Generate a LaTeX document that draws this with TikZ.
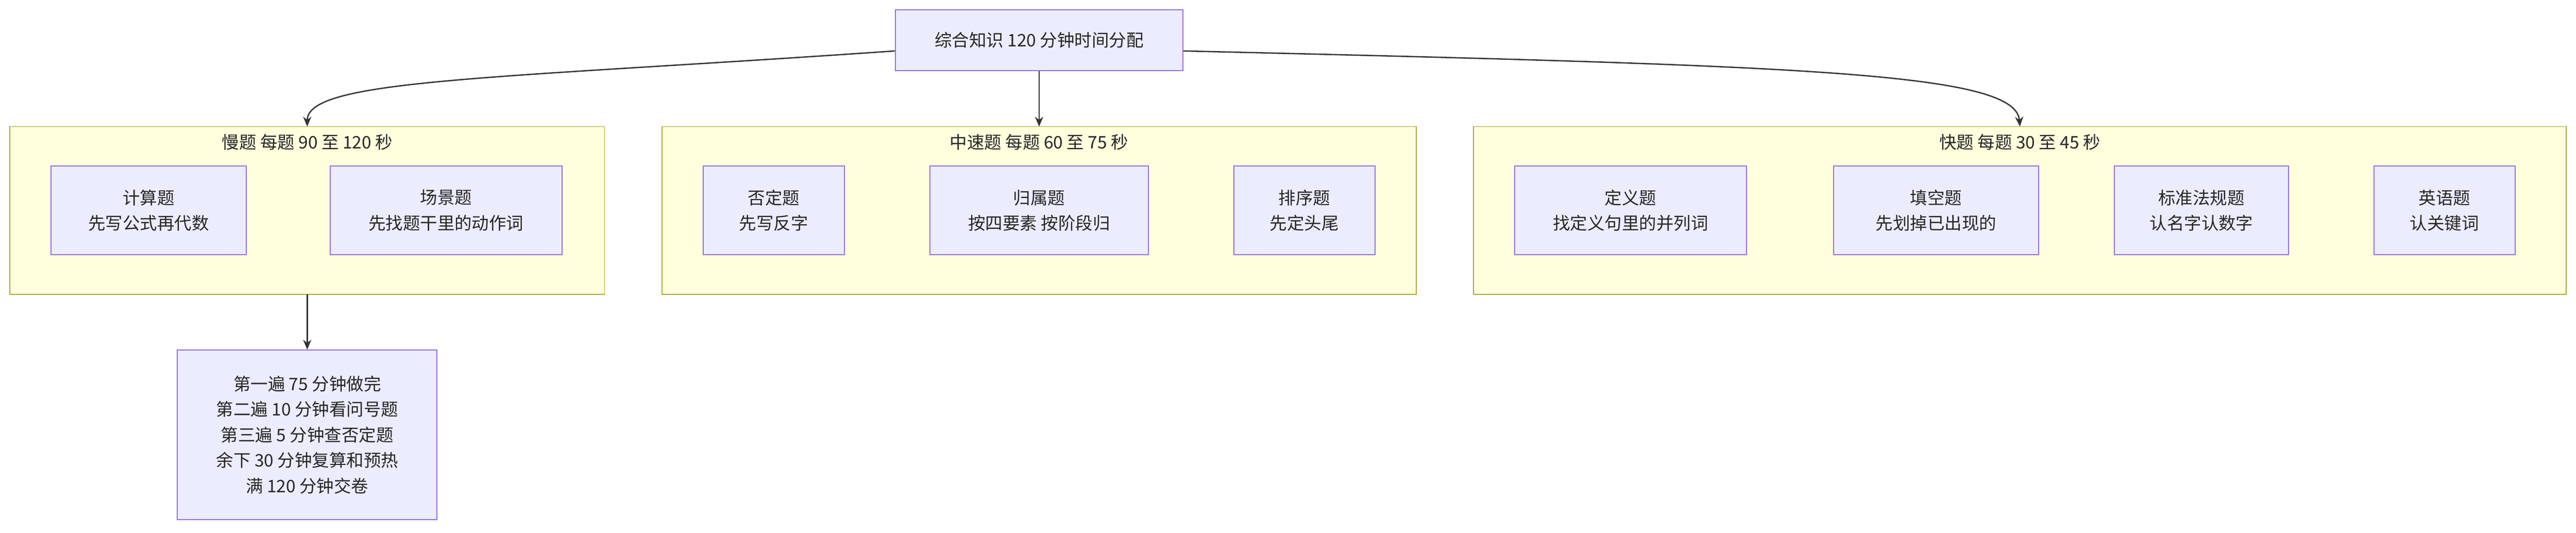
\documentclass[tikz,border=0pt]{standalone}
\usepackage{fontspec}
\setmainfont{Noto Sans CJK SC}
\usetikzlibrary{arrows.meta}
\definecolor{nfill}{HTML}{ECECFF}
\definecolor{nline}{HTML}{9370DB}
\definecolor{cfill}{HTML}{FFFFDE}
\definecolor{cline}{HTML}{AAAA33}
\definecolor{aline}{HTML}{333333}
\begin{document}
\begin{tikzpicture}[x=1pt,y=-1pt,
  nd/.style={draw=nline,fill=nfill,line width=0.6pt,align=center,font=\fontsize{10.5}{15.5}\selectfont,text=black!85},
  cl/.style={draw=cline,fill=cfill,line width=0.6pt},
  ct/.style={font=\fontsize{10.5}{13}\selectfont,text=black!85,anchor=north},
  ar/.style={draw=aline,line width=0.8pt,-{Stealth[length=6pt,width=5pt]}}]
\useasboundingbox (0,0) rectangle (1568,324.1);
\newcommand\bx[6]{\node[nd,minimum width=#4-#2,minimum height=#5-#3,inner sep=0pt] (#1) at ({(#2+#4)/2},{(#3+#5)/2}) {#6};}
\newcommand\cbx[5]{\path[cl] (#2,#3) rectangle (#4,#5); \coordinate (#1) at ({(#2+#4)/2},#3); \coordinate (#1b) at ({(#2+#4)/2},#5);}
\cbx{c1}{6}{77}{368}{179}
\cbx{c2}{403}{77}{862}{179}
\cbx{c3}{897}{77}{1562}{179}
\node[ct] (t1) at (187,78) {慢题 每题 90 至 120 秒};
\node[ct] (t2) at (632.5,78) {中速题 每题 60 至 75 秒};
\node[ct] (t3) at (1229.5,78) {快题 每题 30 至 45 秒};
\bx{top}{545}{6}{720}{43}{综合知识 120 分钟时间分配}
\bx{a}{31}{101}{150}{155}{计算题\\先写公式再代数}
\bx{b}{201}{101}{342}{155}{场景题\\先找题干里的动作词}
\bx{c}{428}{101}{514}{155}{否定题\\先写反字}
\bx{d}{566}{101}{699}{155}{归属题\\按四要素 按阶段归}
\bx{e}{751}{101}{837}{155}{排序题\\先定头尾}
\bx{f}{922}{101}{1063}{155}{定义题\\找定义句里的并列词}
\bx{g}{1116}{101}{1241}{155}{填空题\\先划掉已出现的}
\bx{h}{1287}{101}{1393}{155}{标准法规题\\认名字认数字}
\bx{i}{1445}{101}{1531}{155}{英语题\\认关键词}
\bx{z}{108}{213}{266}{316}{第一遍 75 分钟做完\\第二遍 10 分钟看问号题\\第三遍 5 分钟查否定题\\余下 30 分钟复算和预热\\满 120 分钟交卷}
\draw[ar] (top.west|-0,31) .. controls (300,48) and (187,48) .. (c1);
\draw[ar] (top.south) -- (c2);
\draw[ar] (top.east|-0,31) .. controls (1100,40) and (1227,44) .. (c3);
\draw[ar] (c1b) -- (z.north);
\end{tikzpicture}
\end{document}
